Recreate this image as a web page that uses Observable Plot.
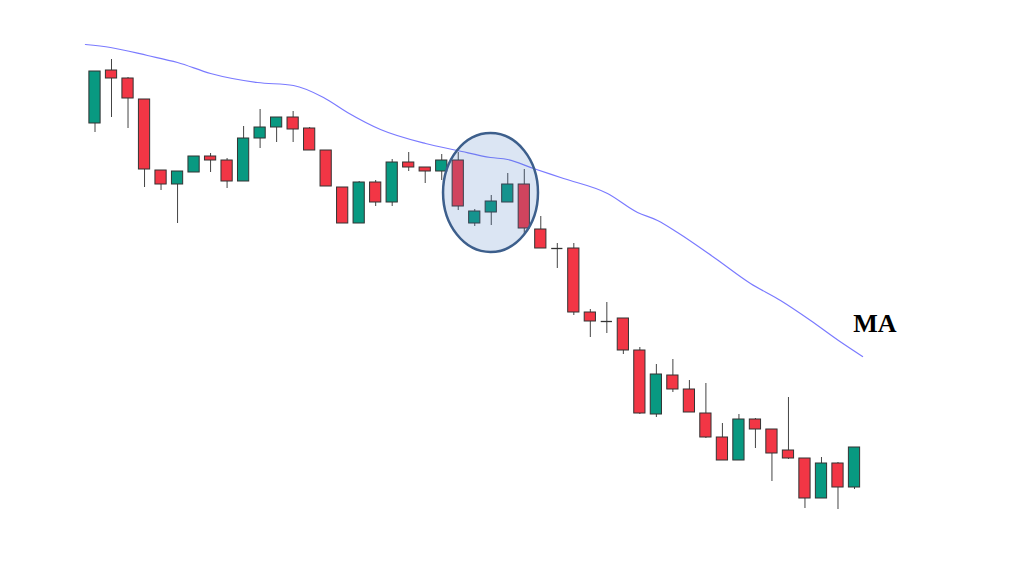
<!DOCTYPE html>
<html>
<head>
<meta charset="utf-8">
<script src="https://cdn.jsdelivr.net/npm/d3@7"></script>
<script src="https://cdn.jsdelivr.net/npm/@observablehq/plot@0.6"></script>
<style>
  html, body { margin: 0; padding: 0; background: #ffffff; }
  #chart svg { display: block; background: #ffffff; }
</style>
</head>
<body>
<div id="chart"></div>
<script>
// Candle prices
const opens  = [477,530,522,501,430,416,428,444,440,419,462,473,483,472,450,413,377,418,398,438,433,429,440,377,388,398,416,371,352,352,288,279,282,250,186,225,211,187,163,140,181,171,150,142,102,137,113];
const highs  = [529,541,523,501,430,429,444,447,442,474,491,483,489,473,450,413,419,420,441,448,433,446,448,391,405,427,431,384,357,357,291,298,282,253,236,241,220,217,177,186,182,171,203,142,143,138,153];
const lows   = [468,483,472,413,410,377,428,428,412,419,452,458,458,450,414,377,377,394,394,429,417,420,390,374,375,398,365,352,332,285,263,267,246,186,183,208,188,162,140,140,152,119,141,92,102,91,111];
const closes = [529,522,502,431,416,429,444,440,419,462,473,483,471,450,414,377,418,398,438,433,429,440,394,389,399,416,372,352,352,288,279,279,250,187,226,211,188,163,140,181,171,147,142,102,137,113,153];

// Moving average line points (position in candle index, value)
const maIndex = [-0.58,0.94,3.18,5.0,7.0,9.84,12.02,13.84,15.29,17.29,20.02,21.96,23.96,24.99,26.56,28.38,31.04,32.86,34.07,35.28,37.58,39.7,41.52,43.34,45.03,46.49];
const maValue = [556,553,545,538,527,518,515,503,488,471,457,450,443,441,432,422,407,388,380,368,342,317,300,280,260,244];

// Highlight ellipse (candle-index span and price span)
const highlightX = [21.11, 26.86];
const highlightY = [348, 467];

// Label
const labelText = "MA";
const labelPos = {i: 47.24, v: 276.5};

const candles = opens.map((o, i) => ({i, open: o, high: highs[i], low: lows[i], close: closes[i]}));
const bodies = candles.filter(d => d.open !== d.close);
const dojis = candles.filter(d => d.open === d.close);
const ma = maIndex.map((x, k) => ({x, v: maValue[k]}));
const highlight = [{x1: highlightX[0], x2: highlightX[1], y1: highlightY[0], y2: highlightY[1]}];

const RED = "#f23645", GREEN = "#089981";
const hw = 0.34;

const chart = Plot.plot({
  width: 1024,
  height: 576,
  marginTop: 0,
  marginBottom: 0,
  marginLeft: 94.5,
  marginRight: 170,
  x: {domain: [0, 46], axis: null},
  y: {domain: [24, 600], axis: null},
  marks: [
    Plot.ruleX(candles, {x: "i", y1: "low", y2: "high", stroke: "#444", strokeWidth: 1}),
    Plot.rect(bodies, {
      x1: d => d.i - hw, x2: d => d.i + hw,
      y1: "open", y2: "close",
      fill: d => d.close > d.open ? GREEN : RED,
      stroke: "#333", strokeWidth: 1
    }),
    Plot.ruleY(dojis, {x1: d => d.i - hw, x2: d => d.i + hw, y: "open", stroke: "#333", strokeWidth: 1.3}),
    Plot.line(ma, {x: "x", y: "v", stroke: "#7a7aff", strokeWidth: 1.2, curve: "monotone-x"}),
    Plot.rect(highlight, {
      x1: "x1", x2: "x2", y1: "y1", y2: "y2",
      rx: 48, ry: 60,
      fill: "#4a7fc1", fillOpacity: 0.2,
      stroke: "#3d5f8c", strokeWidth: 2.5
    }),
    Plot.text([labelPos], {
      x: "i", y: "v", text: () => labelText,
      fontFamily: "Liberation Serif", fontWeight: "bold", fontSize: 26,
      fill: "#000", textAnchor: "middle", lineAnchor: "middle"
    })
  ]
});
document.getElementById("chart").appendChild(chart);
</script>
</body>
</html>
